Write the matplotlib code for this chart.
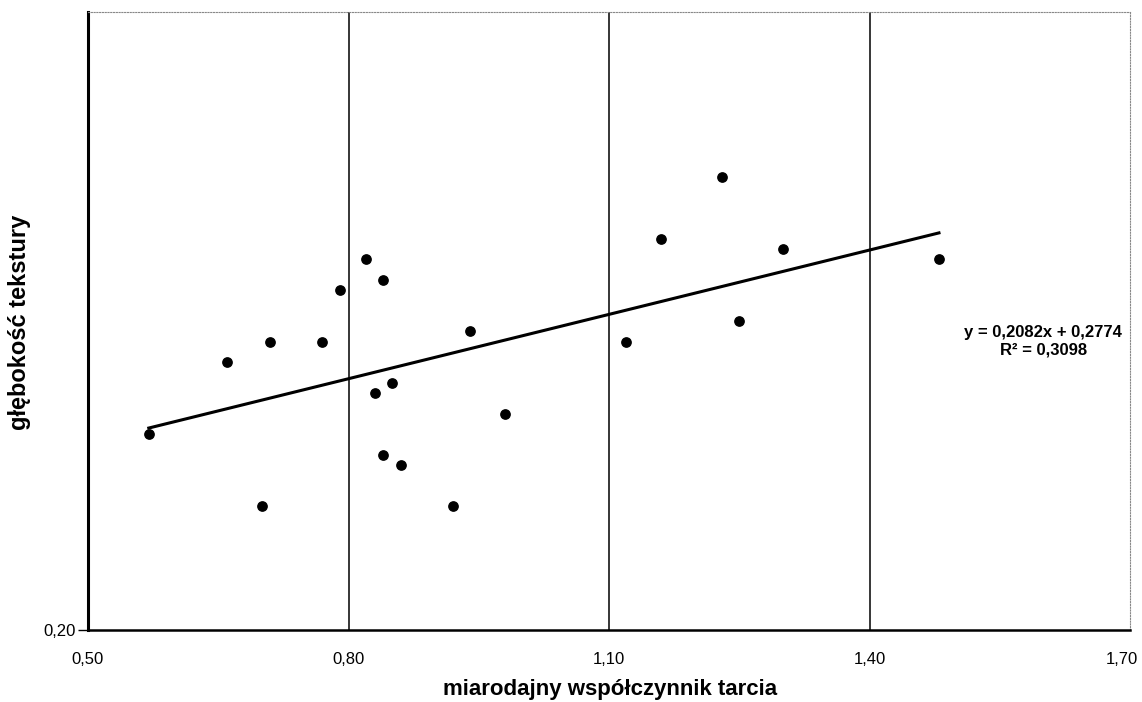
import matplotlib.pyplot as plt
from matplotlib.transforms import ScaledTranslation

plt.rcParams['font.family'] = ['Liberation Sans', 'DejaVu Sans']

# friction coefficient vs texture depth
wsp_tarcia = [0.57, 0.66, 0.70, 0.71, 0.77, 0.79, 0.82, 0.84, 0.83, 0.85, 0.84,
              0.86, 0.92, 0.94, 0.98, 1.12, 1.16, 1.23, 1.25, 1.30, 1.48]
glebokosc = [0.39, 0.46, 0.32, 0.48, 0.48, 0.53, 0.56, 0.54, 0.43, 0.44, 0.37,
             0.36, 0.32, 0.49, 0.41, 0.48, 0.58, 0.64, 0.50, 0.57, 0.56]

# linear trend
a, b, r2 = 0.2082, 0.2774, 0.3098

x_ticks = [0.50, 0.80, 1.10, 1.40, 1.70]
y_ticks = [0.20]


def pl(v, n=2):
    return f'{v:.{n}f}'.replace('.', ',')


fig = plt.figure(figsize=(11.42, 7.02), dpi=100)
ax = fig.add_axes([88 / 1142, 72 / 702, 1042 / 1142, 618 / 702])

ax.set_xlim(0.50, 1.70)
ax.set_ylim(0.20, 0.80)

# vertical grid at the inner x ticks
for xv in x_ticks[1:-1]:
    ax.axvline(xv, color='black', linewidth=1.1, zorder=1)

ax.scatter(wsp_tarcia, glebokosc, s=45, color='black', zorder=3)

x0, x1 = min(wsp_tarcia), max(wsp_tarcia)
ax.plot([x0, x1], [a * x0 + b, a * x1 + b], color='black', linewidth=2.2, zorder=2)

ax.text(1.600, 0.480, f'y = {pl(a, 4)}x + {pl(b, 4)}\nR² = {pl(r2, 4)}',
        ha='center', va='center', fontsize=12, fontweight='bold', linespacing=1.2)

ax.set_xticks(x_ticks)
ax.set_xticklabels([pl(v) for v in x_ticks], fontsize=12)
ax.set_yticks(y_ticks)
ax.set_yticklabels([pl(v) for v in y_ticks], fontsize=12)
ax.tick_params(axis='x', length=0, pad=16)
ax.tick_params(axis='y', length=7, width=1, pad=2, direction='out')

# keep the last x label inside the figure
last = ax.get_xticklabels()[-1]
last.set_transform(last.get_transform() + ScaledTranslation(-8 / 100, 0, fig.dpi_scale_trans))

ax.spines['left'].set_linewidth(2.2)
ax.spines['bottom'].set_linewidth(1.8)
for side in ['top', 'right']:
    ax.spines[side].set_color('#888888')
    ax.spines[side].set_linewidth(0.8)
    ax.spines[side].set_linestyle((0, (1, 1.5)))

fig.text(610 / 1142, 1 - 690 / 702, 'miarodajny współczynnik tarcia',
         ha='center', va='center', fontsize=16, fontweight='bold')
fig.text(20 / 1142, 1 - 322 / 702, 'głębokość tekstury', rotation=90,
         ha='center', va='center', fontsize=17, fontweight='bold')

plt.savefig('out.png', dpi=100)
